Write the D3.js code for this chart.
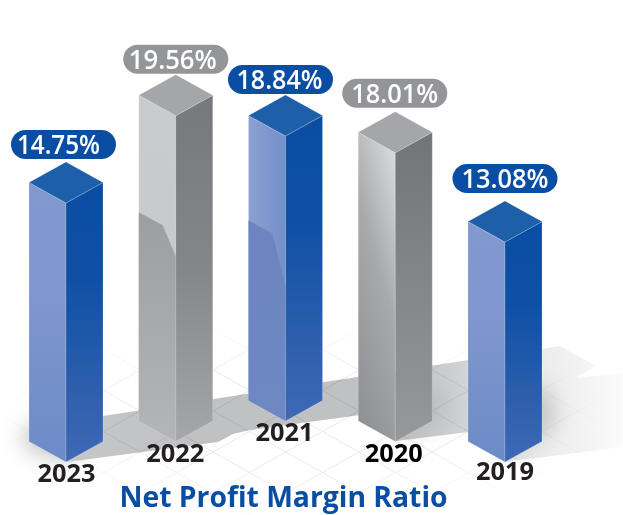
<!DOCTYPE html>
<html><head><meta charset="utf-8">
<script src="https://cdn.jsdelivr.net/npm/d3@7"></script>
<style>html,body{margin:0;padding:0;background:#fff}svg{display:block}text{font-family:"Open Sans",sans-serif}</style>
</head><body><div id="c"></div>
<script>
const categories = ["2023","2022","2021","2020","2019"];
const values = [14.75,19.56,18.84,18.01,13.08];
// column heights as pictured (the artwork is not strictly to scale), in % units
const drawnHeights = [15.7,19.75,17.27,17.5,13.33];
// how far back on the floor each column stands (row 0 = nearest)
const floorRows = [0,1,2,1,0];
const tones = ["blue","grey","blue2","grey2","blue"];
const chartTitle = "Net Profit Margin Ratio";

const W=623,H=515;
const svg=d3.select("#c").append("svg").attr("width",W).attr("height",H);
const defs=svg.append("defs");
function grad(id,stops,x1=0,y1=0,x2=0,y2=1){
  const g=defs.append("linearGradient").attr("id",id).attr("x1",x1).attr("y1",y1).attr("x2",x2).attr("y2",y2);
  stops.forEach(s=>g.append("stop").attr("offset",s[0]).attr("stop-color",s[1]));
}
const blueR=[[0,"#0a4da3"],[.35,"#0f50a5"],[.75,"#2e5fad"],[1,"#3f69b6"]];
grad("blueL",[[0,"#8299cf"],[.4,"#7f97cd"],[1,"#6c8bc7"]]);
grad("blueR",blueR);
grad("blue2L",[[0,"#8ba0d3"],[1,"#7290c8"]],0,0,1,0);
grad("blue2R",blueR);
grad("greyL",[[0,"#c9cbcd"],[1,"#c6c8ca"]]);
grad("greyR",[[0,"#77787b"],[.5,"#858688"],[1,"#a6a7a9"]]);
grad("grey2L",[[0,"#d5d6d8"],[.45,"#a7a9ab"],[1,"#929396"]],.8,.03,.4,1);
grad("grey2R",[[0,"#737477"],[1,"#979899"]]);
grad("shadegrey",[[0,"#9c9ea1"],[1,"#b3b5b7"]]);
grad("shadeblue2",[[0,"#6c85c1"],[1,"#6e88c4"]]);
grad("band",[[0,"#c6c7c8"],[.22,"#c0c1c3"],[.6,"#bfc1c3"],[.7,"#cfd0d1"],[.82,"#e8e9e9"],[.92,"#f2f2f2"],[1,"#fbfbfb"]],0,0,1,0);
const blur=defs.append("filter").attr("id","soft").attr("x","-60%").attr("y","-60%").attr("width","220%").attr("height","220%");
blur.append("feGaussianBlur").attr("stdDeviation",11);
const fade=defs.append("radialGradient").attr("id","fade").attr("gradientUnits","userSpaceOnUse")
  .attr("cx",0).attr("cy",0).attr("r",1).attr("gradientTransform","translate(300,420) scale(320,100)");
fade.append("stop").attr("offset",.55).attr("stop-color","#fff");
fade.append("stop").attr("offset",1).attr("stop-color","#000");
defs.append("mask").attr("id","gridMask").attr("maskUnits","userSpaceOnUse").attr("x",0).attr("y",0).attr("width",W).attr("height",H)
  .append("rect").attr("width",W).attr("height",H).attr("fill","url(#fade)");

const x=d3.scalePoint().domain(categories).range([66,505]);
const floor=d3.scaleLinear().domain([0,2]).range([462,421]);
const y=d3.scaleLinear().domain([0,1]).range([0,16.5]);
const halfW=37, rise=20.5;
const pts=a=>a.map(p=>p.join(",")).join(" ");

// shadow on the floor
svg.append("polygon").attr("filter","url(#soft)").attr("fill","#b4b5b6").attr("opacity",.85)
  .attr("points",pts([[24,428],[24,446],[66,462],[90,440],[60,420]]));
svg.append("polygon").attr("fill","url(#band)")
  .attr("points",pts([[67,462],[103,416],[560,346],[596,366],[575,378],[623,373],[623,447],[505,462],[468,432],[396,441],[360,415],[250,430],[233,434],[218,442]]));
svg.append("polygon").attr("filter","url(#soft)").attr("fill","#b2b3b5").attr("opacity",.7)
  .attr("points",pts([[500,400],[548,385],[556,425],[510,455]]));
svg.append("polygon").attr("filter","url(#soft)").attr("fill","#b2b3b5").attr("opacity",.6)
  .attr("points",pts([[400,400],[440,385],[448,415],[405,438]]));

// floor grid
const gg=svg.append("g").attr("mask","url(#gridMask)").style("mix-blend-mode","multiply")
  .attr("stroke","#e9eaea").attr("stroke-width",1).attr("fill","none");
d3.range(-12,13).forEach(k=>{
  const sl=20.5/36.5, y0=452+k*41;
  gg.append("line").attr("x1",0).attr("y1",y0+(0-286)*sl).attr("x2",W).attr("y2",y0+(W-286)*sl);
  gg.append("line").attr("x1",0).attr("y1",y0-(0-286)*sl).attr("x2",W).attr("y2",y0-(W-286)*sl);
});

// small hand-placed nudges of the pills and their texts, as in the artwork
const pillCentre=[-2.5,0,-5,-0.5,0], pillGap=[3,1,1,4,8], textShift=[-5,-3,-1,0,0], textWidth=[83,88,86,87,87], labelShift=[0.5,-0.5,-1,-1.5,0];

const cols=svg.selectAll("g.col").data(categories).join("g").attr("class","col");
cols.each(function(c,i){
  const g=d3.select(this),cxx=x(c),bot=floor(floorRows[i]),h=y(drawnHeights[i]),t=tones[i];
  const top=bot-h, L=cxx-halfW, R=cxx+halfW;
  const blue=t.startsWith("blue");
  const tint=blue?"#1e5fa9":"#a5a6a9";
  g.append("polygon").attr("fill",`url(#${t}L)`).attr("stroke","#fff").attr("stroke-opacity",.35).attr("stroke-width",.5)
    .attr("points",pts([[L,top-rise],[cxx,top],[cxx,bot],[L,bot-rise]]));
  if(t==="blue2"||t==="grey"){
    const s=top-rise+(t==="grey"?117:105);
    g.append("polygon").attr("fill",`url(#shade${t})`)
      .attr("points",pts([[L,s],[L+24,s+13],[cxx,s+(t==="grey"?44:66)],[cxx,bot],[L,bot-rise]]));
  }
  g.append("polygon").attr("fill",`url(#${t}R)`).attr("stroke","#fff").attr("stroke-opacity",.35).attr("stroke-width",.5)
    .attr("points",pts([[cxx,top],[R,top-rise],[R,bot-rise],[cxx,bot]]));
  g.append("polygon").attr("fill",tint).attr("stroke","#fff").attr("stroke-opacity",.35).attr("stroke-width",.5)
    .attr("points",pts([[L,top-rise],[cxx,top-2*rise],[R,top-rise],[cxx,top]]));
  // value pill
  const pw=105,ph=29,px=cxx+pillCentre[i],py=top-2*rise-pillGap[i]-ph;
  g.append("rect").attr("x",px-pw/2).attr("y",py).attr("width",pw).attr("height",ph).attr("rx",14.5)
    .attr("fill",blue?"#0a4ea3":"#939598");
  g.append("text").attr("x",px+textShift[i]).attr("y",py+24).attr("text-anchor","middle").attr("fill","#fff")
    .attr("font-size",27.5).attr("font-weight",600)
    .attr("textLength",textWidth[i]).attr("lengthAdjust","spacingAndGlyphs")
    .text(values[i].toFixed(2)+"%");
  // category label
  g.append("text").attr("x",cxx+labelShift[i]).attr("y",bot+(i===4?18:20)).attr("text-anchor","middle")
    .attr("font-size",25).attr("font-weight",700).attr("fill",i===3?"#000":"#231f20")
    .attr("textLength",58).attr("lengthAdjust","spacingAndGlyphs").text(c);
});
svg.append("text").attr("x",283.5).attr("y",507).attr("text-anchor","middle").attr("font-size",28.3).attr("font-weight",700).attr("fill","#0a4ea3").text(chartTitle);
</script></body></html>
